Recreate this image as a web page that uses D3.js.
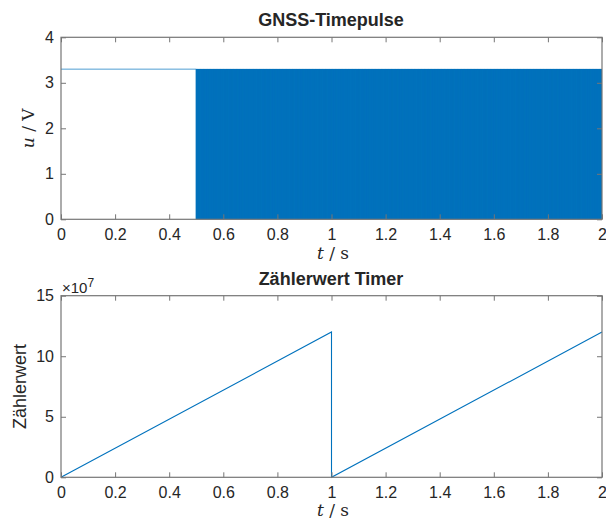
<!DOCTYPE html>
<html>
<head>
<meta charset="utf-8">
<script src="https://cdn.jsdelivr.net/npm/d3@7/dist/d3.min.js"></script>
<style>
  body { margin: 0; background: #fff; }
  svg { display: block; }
  text { font-family: "Liberation Sans", Arial, Helvetica, sans-serif; fill: #262626; }
</style>
</head>
<body>
<svg id="chart" width="606" height="523"></svg>
<script>
// ---- data ----
const timeTicks = [0, 0.2, 0.4, 0.6, 0.8, 1, 1.2, 1.4, 1.6, 1.8, 2];
const timeTickLabels = ["0", "0.2", "0.4", "0.6", "0.8", "1", "1.2", "1.4", "1.6", "1.8", "2"];
const voltTicks = [0, 1, 2, 3, 4];
const counterTicks = [0, 5, 10, 15];

// timepulse signal: steady high level, then a square wave
const pulseLevels = [0, 3.3];        // low / high voltage
const pulseHoldUntil = 0.5;          // s, constant high before pulsing starts
const pulseEnd = 2;                  // s
const pulsePeriod = 0.001;           // s (1 kHz timepulse)

// timer counter (sawtooth, reset at 1 s)
const counterTimes = [0, 1, 1, 2];
const counterValues = [0, 12e7, 0, 12e7];
const counterExponent = 7;

// ---- layout ----
const svg = d3.select("#chart");
const left = 61, right = 602;
const top1 = 37.3, bottom1 = 219.3;
const top2 = 295.7, bottom2 = 477.3;
const lineColor = "#0072BD";
const axisColor = "#767676";
const serif = "'DejaVu Serif', 'Liberation Serif', serif";

const x = d3.scaleLinear().domain([0, 2]).range([left, right]);

function drawFrame(g, y, yTicks, yTop, yBottom) {
  const tickLen = 5;
  // x ticks (bottom + top, pointing inward)
  const xb = d3.axisBottom(x).tickValues(timeTicks).tickSizeInner(-tickLen).tickSizeOuter(0)
    .tickPadding(9).tickFormat((d, i) => timeTickLabels[i]);
  const gxb = g.append("g").attr("transform", `translate(0,${yBottom})`).call(xb);
  const xt = d3.axisTop(x).tickValues(timeTicks).tickSizeInner(-tickLen).tickSizeOuter(0).tickFormat("");
  const gxt = g.append("g").attr("transform", `translate(0,${yTop})`).call(xt);
  const yl = d3.axisLeft(y).tickValues(yTicks).tickSizeInner(-tickLen).tickSizeOuter(0)
    .tickPadding(7).tickFormat(d3.format("d"));
  const gyl = g.append("g").attr("transform", `translate(${left},0)`).call(yl);
  const yr = d3.axisRight(y).tickValues(yTicks).tickSizeInner(-tickLen).tickSizeOuter(0).tickFormat("");
  const gyr = g.append("g").attr("transform", `translate(${right},0)`).call(yr);
  [gxb, gxt, gyl, gyr].forEach(a => {
    a.select(".domain").remove();
    a.selectAll("line").attr("stroke", axisColor);
    a.selectAll("text").style("font-size", "16px").attr("fill", "#262626")
      .style("font-family", "'Liberation Sans', Arial, sans-serif");
  });
  g.append("rect").attr("x", left).attr("y", yTop).attr("width", right - left)
    .attr("height", yBottom - yTop).attr("fill", "none").attr("stroke", axisColor).attr("stroke-width", 1.2);
}

function timeLabel(yPos) {
  const t = svg.append("text").attr("x", 333).attr("y", yPos).attr("text-anchor", "middle")
    .style("font-family", serif).style("font-size", "17px");
  t.append("tspan").style("font-style", "italic").text("t");
  t.append("tspan").text(" / s");
}

// ---- top panel: GNSS timepulse ----
const y1 = d3.scaleLinear().domain([0, 4]).range([bottom1, top1]);
const g1 = svg.append("g");
svg.append("defs").append("clipPath").attr("id", "clip1").append("rect")
  .attr("x", left).attr("y", top1).attr("width", right - left).attr("height", bottom1 - top1);

const pulsePts = [[0, pulseLevels[1]], [pulseHoldUntil, pulseLevels[1]], [pulseHoldUntil, pulseLevels[0]]];
for (let t = pulseHoldUntil; t < pulseEnd - 1e-9; t += pulsePeriod) {
  const mid = t + pulsePeriod / 2;
  pulsePts.push([t, pulseLevels[1]], [mid, pulseLevels[1]], [mid, pulseLevels[0]], [t + pulsePeriod, pulseLevels[0]]);
}
g1.append("path").attr("clip-path", "url(#clip1)")
  .attr("d", d3.line().x(d => x(d[0])).y(d => y1(d[1]))(pulsePts))
  .attr("fill", "none").attr("stroke", lineColor).attr("stroke-width", 0.7);
drawFrame(g1, y1, voltTicks, top1, bottom1);

svg.append("text").attr("x", 331).attr("y", 26).attr("text-anchor", "middle")
  .style("font-weight", "bold").style("font-size", "18px").text("GNSS-Timepulse");
timeLabel(259);
const uLab = svg.append("text").attr("transform", `translate(34,${(top1 + bottom1) / 2}) rotate(-90)`)
  .attr("text-anchor", "middle").style("font-family", serif).style("font-size", "17px");
uLab.append("tspan").style("font-style", "italic").text("u");
uLab.append("tspan").text(" / V");

// ---- bottom panel: timer counter ----
const scale = Math.pow(10, counterExponent);
const y2 = d3.scaleLinear().domain([0, 15]).range([bottom2, top2]);
const g2 = svg.append("g");
const counterPts = counterTimes.map((t, i) => [t, counterValues[i] / scale]);
g2.append("path")
  .attr("d", d3.line().x(d => x(d[0])).y(d => y2(d[1]))(counterPts))
  .attr("fill", "none").attr("stroke", lineColor).attr("stroke-width", 1.1);
drawFrame(g2, y2, counterTicks, top2, bottom2);

svg.append("text").attr("x", 331).attr("y", 285).attr("text-anchor", "middle")
  .style("font-weight", "bold").style("font-size", "18px").text("Zählerwert Timer");
timeLabel(516);
svg.append("text").attr("transform", `translate(26,${(top2 + bottom2) / 2}) rotate(-90)`)
  .attr("text-anchor", "middle").style("font-size", "18px").text("Zählerwert");
const ex = svg.append("text").attr("x", 62).attr("y", 293).style("font-size", "15px");
ex.append("tspan").text("×10");
ex.append("tspan").attr("dy", -6).style("font-size", "12px").text(counterExponent);
</script>
</body>
</html>
